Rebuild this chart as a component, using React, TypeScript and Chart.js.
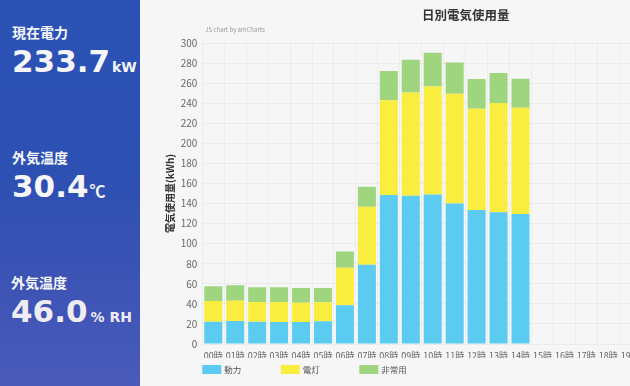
import React, { useEffect, useRef } from 'react';
import { Chart, registerables } from 'chart.js';

Chart.register(...registerables);

const hours = [
  '00時', '01時', '02時', '03時', '04時', '05時', '06時', '07時', '08時', '09時', '10時', '11時',
  '12時', '13時', '14時', '15時', '16時', '17時', '18時', '19時', '20時', '21時', '22時', '23時',
];
const seriesNames = ['動力', '電灯', '非常用'];
const douryoku = [22.2, 22.9, 22.2, 21.9, 21.9, 22.6, 38.5, 79.0, 148.4, 147.7, 149.1, 140.1, 133.5, 131.2, 129.5, null, null, null, null, null, null, null, null, null];
const dentou = [20.6, 20.2, 19.6, 19.9, 19.2, 18.9, 37.5, 57.8, 94.6, 103.0, 107.6, 109.2, 100.9, 109.1, 105.9, null, null, null, null, null, null, null, null, null];
const hijou = [14.7, 15.4, 14.7, 14.7, 14.7, 14.3, 16.3, 19.9, 29.0, 32.5, 33.5, 31.3, 29.6, 29.9, 28.9, null, null, null, null, null, null, null, null, null];
const seriesColors = ['#5ccbf1', '#f9ee40', '#9fd57e'];
const yMin = 0;
const yMax = 300;
const yStep = 20;
const chartTitle = '日別電気使用量';
const yTitle = '電気使用量(kWh)';
const credit = 'JS chart by amCharts';

const FONT = "'Noto Sans CJK JP', 'DejaVu Sans', sans-serif";

const overlayPlugin = {
  id: 'overlay',
  afterDraw(chart: any) {
    const { ctx, chartArea } = chart;
    const cx = (chartArea.left + chartArea.right) / 2;
    ctx.save();
    ctx.fillStyle = '#333';
    ctx.font = `bold 12.5px ${FONT}`;
    ctx.textAlign = 'center';
    ctx.textBaseline = 'middle';
    ctx.fillText(chartTitle, cx, 15);

    ctx.fillStyle = '#9a9a9a';
    ctx.font = `6px ${FONT}`;
    ctx.textAlign = 'left';
    ctx.fillText(credit, chartArea.left + 3, 30);

    chart.data.datasets.forEach((ds: any, i: number) => {
      const x0 = chartArea.left + i * 78.5;
      const y0 = 365;
      ctx.fillStyle = ds.backgroundColor;
      ctx.fillRect(x0, y0, 19, 9);
      ctx.fillStyle = '#555';
      ctx.font = `8.5px ${FONT}`;
      ctx.textAlign = 'left';
      ctx.textBaseline = 'middle';
      ctx.fillText(ds.label, x0 + 22, y0 + 4.5);
    });
    ctx.restore();
  },
};

function BarChart() {
  const ref = useRef<HTMLCanvasElement | null>(null);
  useEffect(() => {
    if (!ref.current) return;
    const chart = new Chart(ref.current, {
      type: 'bar',
      data: {
        labels: hours,
        datasets: [
          { label: seriesNames[0], data: douryoku, backgroundColor: seriesColors[0] },
          { label: seriesNames[1], data: dentou, backgroundColor: seriesColors[1] },
          { label: seriesNames[2], data: hijou, backgroundColor: seriesColors[2] },
        ],
      },
      options: {
        animation: false,
        responsive: false,
        devicePixelRatio: 1,
        layout: { padding: { left: 0, right: 53, top: 43, bottom: 28 } },
        datasets: { bar: { categoryPercentage: 0.82, barPercentage: 1, borderWidth: 0 } },
        plugins: {
          legend: { display: false },
          title: { display: false },
          tooltip: { enabled: false },
        },
        scales: {
          x: {
            stacked: true,
            grid: { color: 'rgba(0,0,0,0.035)', drawTicks: false, offset: true },
            border: { display: false },
            ticks: {
              autoSkip: false,
              maxRotation: 0,
              minRotation: 0,
              padding: 6,
              color: '#666',
              font: { family: FONT, size: 9 },
            },
            afterFit: (s: any) => { s.height = 14; },
          },
          y: {
            stacked: true,
            min: yMin,
            max: yMax,
            grid: { color: 'rgba(0,0,0,0.045)', drawTicks: false },
            border: { display: false },
            ticks: {
              stepSize: yStep,
              padding: 5,
              color: '#666',
              font: { family: FONT, size: 10 },
            },
            title: {
              display: true,
              text: yTitle,
              color: '#333',
              font: { family: FONT, size: 10, weight: 'bold' },
              padding: { top: 14, bottom: 0 },
            },
            afterFit: (s: any) => { s.width = 52.3; },
          },
        },
      },
      plugins: [overlayPlugin],
    } as any);
    return () => chart.destroy();
  }, []);
  return (
    <canvas
      ref={ref}
      width={632}
      height={386}
      style={{ position: 'absolute', left: 150, top: 0, width: 632, height: 386 }}
    />
  );
}

const labelStyle: React.CSSProperties = {
  position: 'absolute',
  fontFamily: "'Noto Sans CJK JP', sans-serif",
  fontWeight: 700,
  fontSize: 14,
  lineHeight: '14px',
  color: '#f6f6f8',
  whiteSpace: 'nowrap',
};
const numStyle: React.CSSProperties = {
  position: 'absolute',
  fontFamily: "'DejaVu Sans', sans-serif",
  fontWeight: 700,
  fontSize: 31,
  lineHeight: '31px',
  color: '#f6f6f8',
  whiteSpace: 'nowrap',
};
const unitStyle: React.CSSProperties = {
  fontFamily: "'DejaVu Sans', sans-serif",
  fontWeight: 700,
  fontSize: 14,
  lineHeight: '14px',
  marginLeft: 2,
};

export default function App() {
  return (
    <div
      style={{
        position: 'fixed',
        left: 0,
        top: 0,
        width: 630,
        height: 386,
        overflow: 'hidden',
        background: '#f6f6f7',
      }}
    >
      <div
        style={{
          position: 'absolute',
          left: 0,
          top: 0,
          width: 140,
          height: 386,
          background: 'linear-gradient(180deg, #2b52b6 0%, #2d50b3 45%, #3a53b4 70%, #4a5bba 100%)',
        }}
      >
        <div style={{ ...labelStyle, left: 12, top: 25 }}>現在電力</div>
        <div style={{ ...numStyle, left: 12, top: 46 }}>
          233.7<span style={unitStyle}>kW</span>
        </div>
        <div style={{ ...labelStyle, left: 12, top: 150 }}>外気温度</div>
        <div style={{ ...numStyle, left: 12, top: 171 }}>
          30.4<span style={{ ...unitStyle, fontFamily: "'Noto Sans CJK JP', sans-serif", fontSize: 16, marginLeft: 1 }}>℃</span>
        </div>
        <div style={{ ...labelStyle, left: 11, top: 275 }}>外気温度</div>
        <div style={{ ...numStyle, left: 11, top: 296, color: '#f1ecf4' }}>
          46.0<span style={{ ...unitStyle, marginLeft: 3 }}>% RH</span>
        </div>
      </div>
      <BarChart />
    </div>
  );
}
